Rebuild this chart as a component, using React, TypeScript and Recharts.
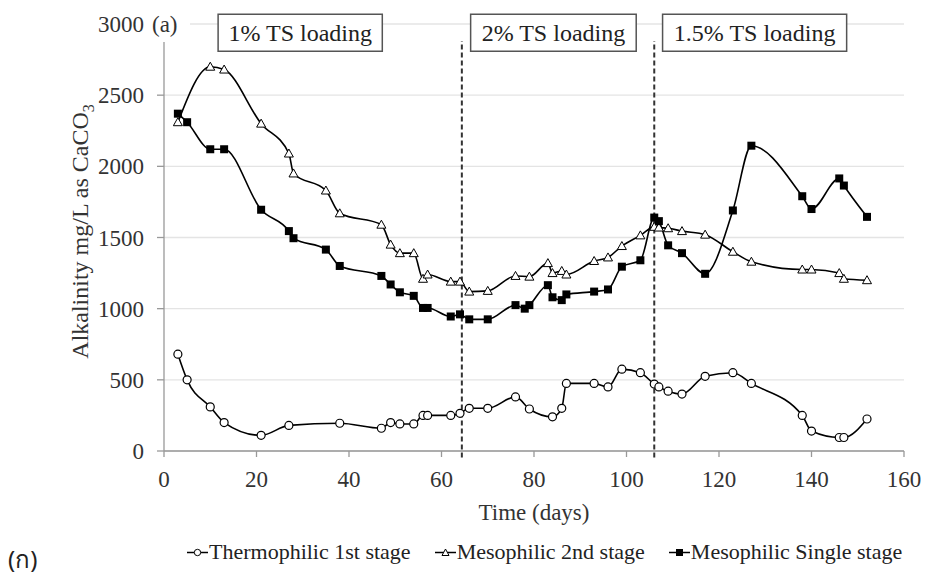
import React from 'react'
import {
  LineChart,
  Line,
  XAxis,
  YAxis,
  CartesianGrid,
  ReferenceLine,
  ReferenceArea,
  Legend,
  Label,
} from 'recharts'

const serif = '"Liberation Serif", "Times New Roman", serif'

// days of each sample, and alkalinity (mg/L as CaCO3)
const thermoDays = [3, 5, 10, 13, 21, 27, 38, 47, 49, 51, 54, 56, 57, 62, 64, 66, 70, 76, 79, 84, 86, 87, 93, 96, 99, 103, 106, 107, 109, 112, 117, 123, 127, 138, 140, 146, 147, 152]
const thermoAlk = [680, 500, 310, 200, 110, 180, 195, 160, 200, 190, 190, 250, 250, 250, 265, 300, 300, 380, 295, 240, 300, 475, 475, 450, 575, 550, 470, 450, 420, 400, 525, 550, 475, 250, 140, 95, 95, 225]

const meso2Days = [3, 10, 13, 21, 27, 28, 35, 38, 47, 49, 51, 54, 56, 57, 62, 64, 66, 70, 76, 79, 83, 84, 86, 87, 93, 96, 99, 103, 106, 107, 109, 112, 117, 123, 127, 138, 140, 146, 147, 152]
const meso2Alk = [2310, 2700, 2680, 2300, 2090, 1950, 1830, 1670, 1590, 1450, 1390, 1390, 1210, 1240, 1190, 1190, 1120, 1125, 1230, 1225, 1320, 1250, 1265, 1240, 1335, 1360, 1440, 1515, 1575, 1570, 1565, 1545, 1520, 1400, 1330, 1275, 1275, 1250, 1210, 1200]

const singleDays = [3, 5, 10, 13, 21, 27, 28, 35, 38, 47, 49, 51, 54, 56, 57, 62, 64, 66, 70, 76, 78, 79, 83, 84, 86, 87, 93, 96, 99, 103, 106, 107, 109, 112, 117, 123, 127, 138, 140, 146, 147, 152]
const singleAlk = [2370, 2310, 2120, 2120, 1695, 1545, 1495, 1415, 1300, 1230, 1170, 1115, 1090, 1005, 1005, 945, 960, 925, 925, 1025, 1000, 1025, 1165, 1080, 1060, 1100, 1120, 1135, 1295, 1340, 1640, 1615, 1445, 1390, 1245, 1690, 2145, 1790, 1700, 1915, 1865, 1645]

const seriesNames = ['Thermophilic 1st stage', 'Mesophilic 2nd stage', 'Mesophilic Single stage']
const xTicks = [0, 20, 40, 60, 80, 100, 120, 140, 160]
const yTicks = [0, 500, 1000, 1500, 2000, 2500, 3000]

// loading phases: label, start day, end day of the text box
const phases = [
  { label: '1% TS loading', from: 11.7, to: 47.2 },
  { label: '2% TS loading', from: 66.3, to: 102.1 },
  { label: '1.5% TS loading', from: 107.8, to: 147.6 },
]
const phaseChanges = [64.4, 106]

const toPoints = (days: number[], vals: number[]) => days.map((d, i) => ({ day: d, alk: vals[i] }))
const thermoData = toPoints(thermoDays, thermoAlk)
const meso2Data = toPoints(meso2Days, meso2Alk)
const singleData = toPoints(singleDays, singleAlk)

const CircleDot = (p: any) => (
  <circle key={p.index} cx={p.cx} cy={p.cy} r={4} fill="#fff" stroke="#000" strokeWidth={1.2} />
)
const TriangleDot = (p: any) => (
  <polygon
    key={p.index}
    points={`${p.cx},${p.cy - 4.5} ${p.cx - 4.5},${p.cy + 3.5} ${p.cx + 4.5},${p.cy + 3.5}`}
    fill="#fff"
    stroke="#000"
    strokeWidth={1}
  />
)
const SquareDot = (p: any) => <rect key={p.index} x={p.cx - 4} y={p.cy - 4} width={8} height={8} fill="#000" />

const YTick = (p: any) => {
  const { x, y, payload } = p
  return (
    <g>
      {payload.value === 3000 && <rect x={150} y={y - 20} width={40} height={38} fill="#fff" />}
      <text x={x} y={y} dy="0.35em" textAnchor="end" fill="#333" fontSize={23}>
        {payload.value}
      </text>
      {payload.value === 3000 && (
        <text x={152} y={y} dy="0.35em" fill="#333" fontSize={23}>
          (a)
        </text>
      )}
    </g>
  )
}

const legendIcon = (name: string) => {
  let marker = <rect x={7} y={6} width={7} height={7} fill="#000" />
  if (name.startsWith('Thermo')) marker = <circle cx={10.5} cy={9.5} r={3.2} fill="#fff" stroke="#000" strokeWidth={1} />
  else if (name.includes('2nd')) marker = <polygon points="10.5,6 7,12.5 14,12.5" fill="#fff" stroke="#000" strokeWidth={1} />
  return (
    <svg width={21} height={19} style={{ marginRight: 1 }}>
      <line x1={0} y1={9.5} x2={21} y2={9.5} stroke="#000" strokeWidth={1.5} />
      {marker}
    </svg>
  )
}

const LegendContent = (props: any) => {
  const items = [...(props.payload || [])].sort(
    (a: any, b: any) => seriesNames.indexOf(a.value) - seriesNames.indexOf(b.value)
  )
  return (
    <div style={{ display: 'flex', alignItems: 'center', fontFamily: serif, fontSize: 22, color: '#222' }}>
      {items.map((e: any, i: number) => (
        <div key={e.value} style={{ display: 'flex', alignItems: 'center', marginRight: i < 2 ? 24 : 0 }}>
          {legendIcon(e.value)}
          <span>{e.value}</span>
        </div>
      ))}
    </div>
  )
}

export default function App() {
  return (
    <div style={{ position: 'absolute', left: 0, top: 0, width: 925, height: 581, background: '#fff', fontFamily: serif }}>
      <LineChart width={925} height={581} margin={{ top: 24, right: 21, left: 84, bottom: 60 }} style={{ fontFamily: serif }}>
        <CartesianGrid vertical={false} stroke="#e4e4e4" strokeWidth={1.3} />
        <XAxis
          type="number"
          dataKey="day"
          domain={[0, 160]}
          ticks={xTicks}
          height={70}
          tickSize={6}
          tickMargin={14}
          stroke="#999"
          strokeWidth={1.3}
          tick={{ fill: '#333', fontSize: 23 }}
        >
          <Label
            content={(p: any) => (
              <text x={p.viewBox.x + p.viewBox.width / 2} y={p.viewBox.y + 69} textAnchor="middle" fill="#333" fontSize={23}>
                Time (days)
              </text>
            )}
          />
        </XAxis>
        <YAxis
          type="number"
          domain={[0, 3000]}
          ticks={yTicks}
          width={80}
          tickSize={7}
          tickMargin={13}
          stroke="#999"
          strokeWidth={1.3}
          tick={YTick}
        >
          <Label
            content={(p: any) => {
              const cy = p.viewBox.y + p.viewBox.height / 2 - 6
              return (
                <text x={88} y={cy} transform={`rotate(-90 88 ${cy})`} textAnchor="middle" fill="#333" fontSize={24}>
                  Alkalinity mg/L as CaCO
                  <tspan fontSize={16} dy={6}>3</tspan>
                </text>
              )
            }}
          />
        </YAxis>
        {phaseChanges.map((d) => (
          <ReferenceLine
            key={d}
            segment={[{ x: d, y: -45 }, { x: d, y: 2880 }]}
            stroke="#333"
            strokeWidth={2}
            strokeDasharray="5 3"
            ifOverflow="visible"
          />
        ))}
        {phases.map((ph) => (
          <ReferenceArea
            key={ph.label}
            x1={ph.from}
            x2={ph.to}
            y1={2809}
            y2={3069}
            fill="#fff"
            fillOpacity={1}
            stroke="#555"
            strokeWidth={1.5}
            ifOverflow="visible"
          >
            <Label value={ph.label} position="center" fill="#222" fontSize={24} />
          </ReferenceArea>
        ))}
        <Line data={thermoData} dataKey="alk" name={seriesNames[0]} type="monotone" stroke="#000" strokeWidth={1.6} dot={CircleDot} isAnimationActive={false} />
        <Line data={meso2Data} dataKey="alk" name={seriesNames[1]} type="monotone" stroke="#000" strokeWidth={1.6} dot={TriangleDot} isAnimationActive={false} />
        <Line data={singleData} dataKey="alk" name={seriesNames[2]} type="monotone" stroke="#000" strokeWidth={1.6} dot={SquareDot} isAnimationActive={false} />
        <Legend
          layout="horizontal"
          verticalAlign="middle"
          align="center"
          content={LegendContent}
          wrapperStyle={{ top: 539, left: 187, width: 738 }}
        />
      </LineChart>
      <div style={{ position: 'absolute', left: 8, top: 543, fontFamily: '"Noto Sans", "DejaVu Sans", sans-serif', fontSize: 24, lineHeight: '32px', color: '#222' }}>
        (ก)
      </div>
    </div>
  )
}
